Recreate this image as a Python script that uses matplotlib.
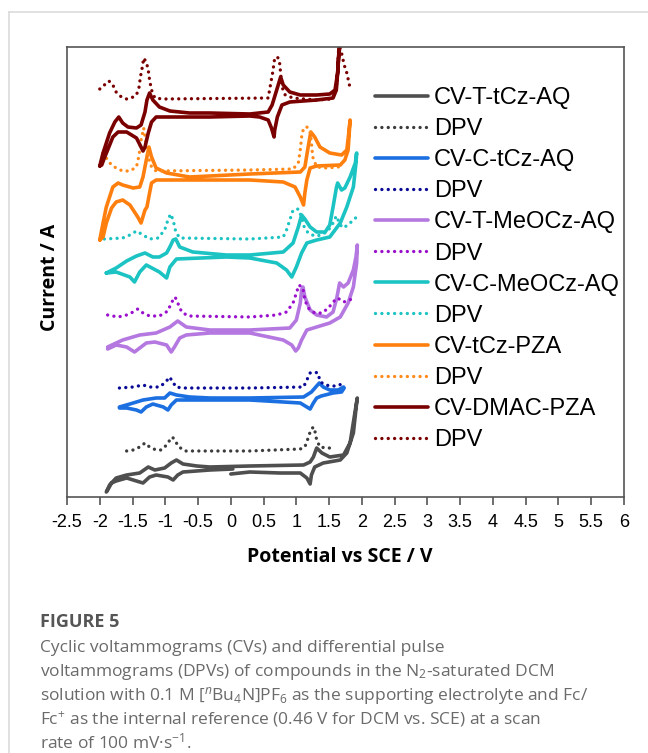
import numpy as np
import matplotlib
matplotlib.use("Agg")
import matplotlib.pyplot as plt
from matplotlib.lines import Line2D

plt.rcParams['axes.unicode_minus'] = False
plt.rcParams['mathtext.fontset'] = 'custom'
plt.rcParams['mathtext.rm'] = 'Open Sans'
plt.rcParams['mathtext.it'] = 'Open Sans:italic'

# ---- data: potential (V vs SCE) and current (arb. units, stacked) ----
# CV-T-tCz-AQ
ttcz_cv_v = [0.00, 0.29, 0.75, 1.06, 1.16, 1.21, 1.23, 1.28, 1.41, 1.67, 1.77, 1.87, 1.92, 1.93,
             1.90, 1.82, 1.72, 1.51, 1.39, 1.31, 1.26, 1.21, 1.11, 0.29, -0.32, -0.52, -0.73, -0.83,
             -0.91, -1.01, -1.16, -1.26, -1.39, -1.59, -1.75, -1.85, -1.90,
             -1.88, -1.82, -1.75, -1.59, -1.44, -1.34, -1.24, -1.14, -0.96, -0.88, -0.81, -0.73, -0.32, 0.03]
ttcz_cv_i = [2.3, 2.5, 2.4, 2.4, 1.9, 1.3, 2.2, 3.0, 3.4, 3.7, 4.4, 6.4, 9.4, 9.9,
             8.7, 5.4, 4.2, 4.0, 4.4, 4.9, 4.0, 3.5, 3.2, 3.1, 3.0, 3.1, 3.3, 3.7,
             3.4, 2.9, 2.7, 3.0, 2.4, 2.2, 1.9, 1.2, 0.5,
             0.7, 1.4, 1.6, 1.9, 1.6, 1.4, 2.0, 2.2, 2.0, 1.7, 2.2, 2.5, 2.7, 2.8]
ttcz_dpv_v = [-1.59, -1.49, -1.39, -1.31, -1.24, -1.14, -1.06, -0.98, -0.93, -0.89, -0.84, -0.79, -0.70,
              0.29, 1.06, 1.13, 1.18, 1.22, 1.26, 1.28, 1.31, 1.36, 1.46, 1.59]
ttcz_dpv_i = [4.6, 4.7, 5.0, 5.4, 5.0, 4.7, 4.7, 5.2, 5.7, 6.0, 5.5, 5.0, 4.6,
              4.6, 4.8, 5.0, 5.9, 6.7, 7.0, 6.7, 5.7, 5.0, 4.9, 4.9]

# CV-C-tCz-AQ
ctcz_cv_v = [-1.70, -1.54, -1.34, -1.14, -1.01, -0.93, -0.83, -0.63, -0.32, 0.29, 1.11, 1.23, 1.35,
             1.41, 1.51, 1.64, 1.72, 1.73,
             1.69, 1.56, 1.38, 1.31, 1.26, 1.21, 1.16, 1.06, 0.29, -0.32, -0.83, -0.91, -0.96,
             -1.03, -1.19, -1.29, -1.37, -1.44, -1.59, -1.70]
ctcz_cv_i = [9.0, 9.3, 9.7, 9.9, 9.9, 10.4, 10.2, 10.0, 9.9, 9.9, 10.0, 10.5, 11.4,
             11.0, 10.7, 10.7, 11.0, 10.9,
             10.5, 10.4, 10.1, 9.9, 9.4, 8.8, 9.0, 9.4, 9.7, 9.7, 9.7, 9.2, 8.7,
             9.0, 9.3, 9.0, 8.5, 8.7, 8.9, 8.9]
ctcz_dpv_v = [-1.70, -1.49, -1.34, -1.24, -1.09, -0.99, -0.94, -0.89, -0.84, -0.73,
              0.29, 1.11, 1.16, 1.21, 1.27, 1.33, 1.36, 1.41, 1.51, 1.62, 1.69]
ctcz_dpv_i = [10.9, 11.0, 11.2, 11.0, 11.0, 11.5, 12.0, 11.6, 11.0, 10.9,
              10.9, 11.0, 11.7, 12.4, 12.5, 12.4, 11.6, 11.3, 11.1, 11.1, 11.3]

# CV-T-MeOCz-AQ
tmeo_cv_v = [-1.88, -1.65, -1.39, -1.14, -0.93, -0.81, -0.68, -0.32, 0.29, 0.90, 1.00, 1.06, 1.08,
             1.10, 1.13, 1.21, 1.31, 1.46, 1.56, 1.62, 1.66, 1.72, 1.79, 1.87, 1.91, 1.93,
             1.92, 1.87, 1.79, 1.67, 1.51, 1.31, 1.16, 1.08, 1.03, 0.99, 0.93, 0.80, 0.29,
             -0.32, -0.68, -0.78, -0.86, -0.91, -0.98, -1.16, -1.29, -1.39, -1.47, -1.59, -1.75, -1.88]
tmeo_cv_i = [15.0, 15.7, 16.2, 16.4, 17.0, 17.6, 17.0, 16.7, 16.7, 16.9, 17.7, 19.4, 20.7,
             21.0, 20.0, 18.7, 18.2, 18.0, 18.5, 20.0, 21.4, 21.0, 21.4, 22.7, 24.0, 25.2,
             23.4, 21.0, 19.4, 18.0, 17.4, 17.0, 16.7, 15.7, 14.9, 14.6, 15.2, 15.7, 16.4,
             16.4, 16.2, 15.9, 15.0, 14.5, 15.2, 15.5, 15.4, 14.9, 14.5, 15.0, 15.2, 14.8]
tmeo_dpv_v = [-1.88, -1.72, -1.59, -1.49, -1.42, -1.34, -1.24, -1.09, -0.96, -0.91, -0.85, -0.81,
              -0.75, -0.65, 0.29, 0.70, 0.85, 0.95, 1.00, 1.04, 1.10, 1.13, 1.18, 1.28, 1.39,
              1.49, 1.56, 1.63, 1.72, 1.82, 1.88]
tmeo_dpv_i = [18.2, 18.0, 18.2, 18.5, 18.8, 18.4, 18.1, 18.1, 18.6, 19.4, 20.0, 19.4,
              18.5, 18.1, 18.0, 18.2, 18.5, 19.4, 20.4, 21.2, 20.9, 19.7, 18.9, 18.4, 18.4,
              18.9, 19.5, 19.9, 19.5, 19.7, 20.2]

# CV-C-MeOCz-AQ
cmeo_cv_v = [-1.90, -1.75, -1.59, -1.44, -1.31, -1.19, -1.09, -0.98, -0.93, -0.88, -0.84, -0.78,
             -0.58, -0.07, 0.29, 0.80, 0.95, 1.03, 1.08, 1.13, 1.21, 1.31, 1.44, 1.51, 1.56, 1.61,
             1.63, 1.69, 1.74, 1.82, 1.90, 1.92,
             1.91, 1.87, 1.77, 1.67, 1.51, 1.31, 1.16, 1.08, 1.00, 0.93, 0.85, 0.70, 0.29,
             -0.07, -0.83, -0.93, -0.98, -1.09, -1.29, -1.39, -1.47, -1.54, -1.75, -1.90]
cmeo_cv_i = [22.4, 22.9, 23.6, 24.1, 24.4, 24.0, 24.0, 24.4, 25.0, 25.7, 25.8, 25.0,
             24.5, 24.2, 24.2, 24.5, 25.4, 27.0, 28.2, 27.8, 27.0, 26.5, 26.5, 27.2, 29.0, 30.9,
             31.4, 30.7, 30.9, 32.0, 33.4, 34.4,
             33.4, 31.0, 29.0, 27.4, 26.0, 25.7, 25.4, 24.4, 23.0, 22.0, 22.7, 23.4, 23.9,
             24.0, 23.8, 23.0, 21.9, 22.5, 23.2, 22.5, 21.5, 22.0, 22.5, 22.4]
cmeo_dpv_v = [-1.93, -1.65, -1.54, -1.44, -1.34, -1.24, -1.11, -1.01, -0.96, -0.92, -0.88, -0.84,
              -0.78, 0.29, 0.80, 0.85, 0.90, 0.95, 1.03, 1.08, 1.12, 1.18, 1.28, 1.39, 1.49,
              1.56, 1.61, 1.67, 1.72, 1.82, 1.92]
cmeo_dpv_i = [25.8, 25.9, 26.2, 26.6, 26.2, 25.8, 25.9, 26.7, 27.7, 28.3, 27.7, 26.5,
              25.9, 25.8, 26.0, 26.7, 27.7, 28.7, 28.8, 28.0, 27.0, 26.4, 26.1, 26.2, 26.7,
              27.4, 28.1, 27.2, 26.9, 27.4, 28.0]

# CV-tCz-PZA
pza_cv_v = [-2.00, -1.95, -1.90, -1.85, -1.80, -1.72, -1.65, -1.49, -1.39, -1.34, -1.29, -1.25,
            -1.21, -1.14, -0.98, -0.63, 0.29, 1.06, 1.13, 1.18, 1.22, 1.28, 1.36, 1.51, 1.69,
            1.77, 1.80, 1.82,
            1.80, 1.79, 1.74, 1.67, 1.31, 1.21, 1.16, 1.13, 1.11, 1.06, 0.98, 0.80, 0.29, -0.63,
            -1.14, -1.21, -1.24, -1.28, -1.31, -1.37, -1.42, -1.54, -1.65, -1.75, -1.82, -1.90,
            -1.95, -2.00]
pza_cv_i = [25.7, 27.4, 29.0, 30.0, 31.0, 31.4, 31.2, 30.9, 31.0, 32.0, 33.7, 35.0,
            34.0, 32.9, 32.4, 32.0, 32.3, 32.5, 33.0, 35.0, 36.5, 36.0, 35.0, 34.4, 34.2,
            34.7, 36.4, 37.7,
            35.7, 34.7, 33.7, 33.2, 33.1, 32.9, 31.7, 30.4, 29.2, 30.0, 31.0, 31.5, 31.7, 31.7,
            31.7, 31.4, 30.4, 29.0, 28.7, 27.4, 28.0, 29.2, 29.7, 29.5, 28.9, 27.4,
            26.0, 25.7]
pza_dpv_v = [-1.95, -1.88, -1.82, -1.75, -1.65, -1.54, -1.44, -1.40, -1.37, -1.33, -1.30, -1.26,
             -1.21, -1.14, 0.29, 0.95, 1.03, 1.06, 1.08, 1.11, 1.16, 1.21, 1.23, 1.25, 1.31,
             1.46, 1.64, 1.70]
pza_dpv_i = [34.4, 33.7, 33.2, 32.9, 32.6, 32.6, 33.0, 34.2, 35.7, 36.9, 35.7, 34.0,
             33.0, 32.6, 32.7, 32.8, 33.4, 34.7, 36.0, 36.9, 37.0, 36.6, 35.4, 34.0, 33.0,
             32.9, 33.0, 33.5]

# CV-DMAC-PZA
dmac_cv_v = [-2.00, -1.95, -1.85, -1.77, -1.71, -1.65, -1.57, -1.44, -1.37, -1.31, -1.28, -1.24,
             -1.19, -1.09, -0.93, -0.63, -0.32, 0.29, 0.57, 0.63, 0.70, 0.76, 0.80, 0.90, 1.06,
             1.31, 1.51, 1.59, 1.63, 1.65, 1.68,
             1.66, 1.63, 1.61, 1.56, 1.31, 0.90, 0.78, 0.71, 0.67, 0.66, 0.62, 0.57, 0.44, 0.29,
             -0.32, -0.93, -1.14, -1.21, -1.26, -1.31, -1.34, -1.37, -1.44, -1.59, -1.72, -1.80,
             -1.88, -1.93, -1.97, -2.00]
dmac_cv_i = [33.1, 34.4, 36.4, 37.5, 38.0, 37.4, 37.0, 36.9, 37.2, 38.5, 39.7, 40.4,
             39.7, 39.0, 38.6, 38.4, 38.4, 38.3, 38.5, 39.2, 40.7, 42.0, 41.2, 40.5, 40.2,
             40.2, 40.3, 40.7, 42.4, 44.4, 45.7,
             45.7, 42.4, 40.7, 39.9, 39.7, 39.5, 39.2, 38.0, 36.7, 36.0, 36.9, 37.7, 38.0, 38.1,
             38.0, 38.0, 38.0, 37.5, 36.4, 35.0, 34.6, 35.0, 35.9, 36.5, 36.5, 36.0,
             34.7, 33.9, 33.2, 33.1]
dmac_dpv_v = [-2.00, -1.93, -1.86, -1.80, -1.75, -1.67, -1.59, -1.52, -1.44, -1.40, -1.38, -1.35,
              -1.33, -1.29, -1.26, -1.24, -1.21, -1.16, -1.04, 0.57, 0.61, 0.64, 0.67, 0.71,
              0.74, 0.76, 0.78, 0.83, 0.95, 1.31, 1.54, 1.61, 1.63, 1.64, 1.66, 1.69, 1.73,
              1.77, 1.81]
dmac_dpv_i = [40.8, 41.2, 41.6, 41.2, 40.5, 40.0, 39.8, 39.9, 40.2, 41.0, 42.0, 43.0,
              43.9, 43.5, 42.7, 41.7, 40.7, 39.9, 39.8, 39.9, 41.4, 42.5, 43.9, 44.0,
              43.7, 42.4, 41.0, 40.2, 39.9, 39.7, 39.8, 40.7, 42.4, 44.4, 45.0, 44.4, 43.2,
              42.4, 41.2]

series = [
    ("CV-T-tCz-AQ", ttcz_cv_v, ttcz_cv_i, "#4f4f4f", ttcz_dpv_v, ttcz_dpv_i, "#3c3c3c"),
    ("CV-C-tCz-AQ", ctcz_cv_v, ctcz_cv_i, "#1b6fe0", ctcz_dpv_v, ctcz_dpv_i, "#0a0a96"),
    ("CV-T-MeOCz-AQ", tmeo_cv_v, tmeo_cv_i, "#b478e0", tmeo_dpv_v, tmeo_dpv_i, "#9a10cc"),
    ("CV-C-MeOCz-AQ", cmeo_cv_v, cmeo_cv_i, "#1cc3c3", cmeo_dpv_v, cmeo_dpv_i, "#1cc3c3"),
    ("CV-tCz-PZA", pza_cv_v, pza_cv_i, "#ff7f0e", pza_dpv_v, pza_dpv_i, "#ff8a1a"),
    ("CV-DMAC-PZA", dmac_cv_v, dmac_cv_i, "#7a0000", dmac_dpv_v, dmac_dpv_i, "#7a0000"),
]
xticks = [-2.5, -2, -1.5, -1, -0.5, 0, 0.5, 1, 1.5, 2, 2.5, 3, 3.5, 4, 4.5, 5, 5.5, 6]
xtick_labels = ["-2.5", "-2", "-1.5", "-1", "-0.5", "0", "0.5", "1", "1.5", "2", "2.5",
                "3", "3.5", "4", "4.5", "5", "5.5", "6"]

W, H = 648, 753
fig = plt.figure(figsize=(W / 100, H / 100), dpi=100)
ax = fig.add_axes([67 / W, (H - 497) / H, 557 / W, 450 / H])

handles = []
for name, cv_v, cv_i, c_cv, dpv_v, dpv_i, c_dpv in series:
    l1, = ax.plot(cv_v, cv_i, color=c_cv, lw=2.6, solid_joinstyle='round',
                  solid_capstyle='round', label=name)
    l2, = ax.plot(dpv_v, dpv_i, color=c_dpv, lw=2.4, linestyle=(0, (0.01, 1.9)),
                  dash_capstyle='round', label="DPV")
    handles += [l1, l2]

ax.set_xlim(-2.5, 6.0)
ax.set_ylim(0, 45)
ax.set_xticks(xticks)
ax.set_xticklabels(xtick_labels, fontfamily='Liberation Sans', fontsize=13)
ax.set_yticks([])
ax.tick_params(axis='x', direction='out', length=6, width=1.2, color='#555555', pad=6)
for s in ax.spines.values():
    s.set_color('#555555')
    s.set_linewidth(1.2)

ax.set_xlabel("Potential vs SCE / V", fontfamily='Open Sans', fontweight='bold',
              fontsize=14, labelpad=12)
ax.xaxis.label.set_x((340 - 67) / 557)
ax.set_ylabel("Current / A", fontfamily='Open Sans', fontweight='bold',
              fontsize=14, labelpad=5)
ax.yaxis.label.set_y((497 - 277) / 450)

ax.legend(handles=handles, loc='upper left', bbox_to_anchor=((375 - 67) / 557, 0.911),
          frameon=False, borderpad=0, borderaxespad=0, handlelength=2.25,
          handletextpad=0.25, labelspacing=0.385,
          prop={'family': 'Liberation Sans', 'size': 17})

# caption
fig.text(40 / W, 1 - 622 / H, "FIGURE 5", fontfamily='Open Sans', fontweight='bold',
         fontsize=13, color='#555555', va='center')
caption = [
    "Cyclic voltammograms (CVs) and differential pulse",
    "voltammograms (DPVs) of compounds in the N$_2$-saturated DCM",
    "solution with 0.1 M [$^{n}$Bu$_4$N]PF$_6$ as the supporting electrolyte and Fc/",
    "Fc$^{+}$ as the internal reference (0.46 V for DCM vs. SCE) at a scan",
    "rate of 100 mV\u00b7s$^{-1}$.",
]
for k, line in enumerate(caption):
    fig.text(40 / W, 1 - (652 + 24.2 * k) / H, line, fontfamily='Open Sans',
             fontsize=12.5, color='#6a6a6a', va='baseline')

# outer panel border
fig.add_artist(Line2D([9 / W, 9 / W], [0, 1 - 12 / H], color='#dcdcdc', lw=1.2))
fig.add_artist(Line2D([9 / W, 1], [1 - 12 / H, 1 - 12 / H], color='#dcdcdc', lw=1.2))

fig.savefig("out.png", dpi=100)
